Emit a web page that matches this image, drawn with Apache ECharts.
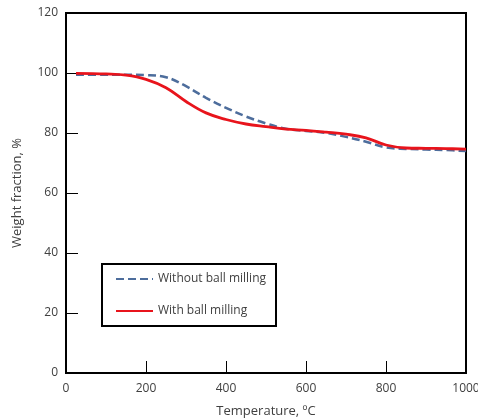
<!DOCTYPE html>
<html>
<head>
<meta charset="utf-8">
<script src="https://cdn.jsdelivr.net/npm/echarts@6/dist/echarts.min.js"></script>
<style>
  html, body { margin: 0; padding: 0; background: #fff; }
  #chart { width: 478px; height: 419px; }
</style>
</head>
<body>
<div id="chart"></div>
<script>
  // temperatures, degC
  var temps = [25, 100, 150, 200, 250, 300, 350, 400, 450, 500, 550, 600, 650, 700, 750, 800, 850, 900, 950, 1000]
  // weight fraction, %
  var withoutMilling = [99.4, 99.4, 99.4, 99.3, 98.6, 95.6, 91.7, 88.4, 85.5, 83.2, 81.4, 80.7, 80.0, 78.7, 77.1, 75.2, 74.7, 74.5, 74.3, 74.0]
  var withMilling = [99.9, 99.7, 99.3, 97.9, 95.1, 90.5, 86.7, 84.5, 83.0, 82.1, 81.3, 80.9, 80.3, 79.6, 78.4, 76.0, 75.0, 74.9, 74.8, 74.6]
  var seriesNames = ['Without ball milling', 'With ball milling']

  var font = '"Open Sans", "Liberation Sans", sans-serif'

  function pairs(ys) {
    return temps.map(function (t, i) { return [t, ys[i]] })
  }

  var chart = echarts.init(document.getElementById('chart'))
  chart.setOption({
    animation: false,
    grid: {
      left: 66,
      right: 12,
      top: 13,
      bottom: 46,
      outerBoundsMode: 'none',
      show: true,
      borderColor: '#000',
      borderWidth: 2
    },
    legend: {
      orient: 'vertical',
      left: 102,
      top: 264,
      width: 174,
      padding: [9, 10, 9, 13],
      itemWidth: 37,
      itemHeight: 10,
      itemGap: 20,
      borderColor: '#000',
      borderWidth: 2,
      backgroundColor: '#fff',
      itemStyle: { opacity: 0 },
      textStyle: { fontFamily: font, fontSize: 12, color: '#404040' },
      data: seriesNames
    },
    xAxis: {
      type: 'value',
      min: 0,
      max: 1000,
      interval: 200,
      name: 'Temperature, ºC',
      nameLocation: 'middle',
      nameGap: 32,
      nameTextStyle: { fontFamily: font, fontSize: 13, color: '#404040' },
      axisLine: { lineStyle: { color: '#000', width: 2 } },
      axisTick: { inside: true, length: 12, lineStyle: { color: '#000', width: 1 } },
      axisLabel: {
        fontFamily: font, fontSize: 12, color: '#404040', margin: 10,
        formatter: function (v) { return String(v) }
      },
      splitLine: { show: false }
    },
    yAxis: {
      type: 'value',
      min: 0,
      max: 120,
      interval: 20,
      name: 'Weight fraction, %',
      nameLocation: 'middle',
      nameGap: 42,
      nameTextStyle: { fontFamily: font, fontSize: 13, color: '#404040' },
      axisLine: { lineStyle: { color: '#000', width: 2 } },
      axisTick: { inside: true, length: 12, lineStyle: { color: '#000', width: 1 } },
      axisLabel: { fontFamily: font, fontSize: 12, color: '#404040', margin: 8 },
      splitLine: { show: false }
    },
    series: [
      {
        name: seriesNames[0],
        type: 'line',
        smooth: 0.4,
        symbol: 'none',
        color: '#4d6d9c',
        lineStyle: { color: '#4d6d9c', width: 2.5, type: [8, 4] },
        data: pairs(withoutMilling)
      },
      {
        name: seriesNames[1],
        type: 'line',
        smooth: 0.4,
        symbol: 'none',
        color: '#e8141c',
        lineStyle: { color: '#e8141c', width: 2.8 },
        data: pairs(withMilling)
      }
    ]
  })
</script>
</body>
</html>
